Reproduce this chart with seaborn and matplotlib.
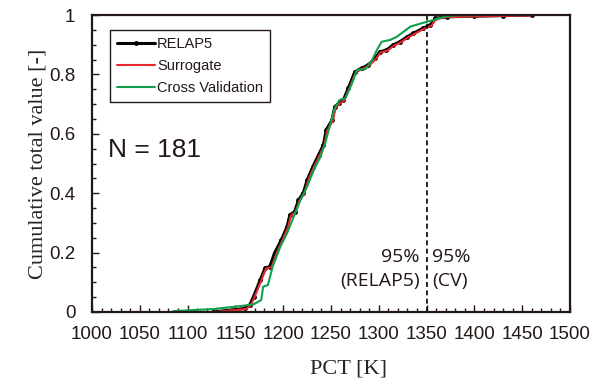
import numpy as np
import pandas as pd
import matplotlib
matplotlib.use("Agg")
import matplotlib.pyplot as plt
import seaborn as sns

# cumulative curves (PCT in K, cumulative fraction)
relap5_pct = [1127, 1160, 1165, 1169, 1176, 1181, 1186, 1191, 1198, 1204, 1207, 1212,
              1216, 1221, 1225, 1231, 1237, 1242, 1245, 1251, 1254, 1258, 1263, 1268,
              1275, 1282, 1289, 1296, 1301, 1308, 1315, 1322, 1329, 1336, 1346, 1354,
              1359, 1371, 1400, 1430, 1460]
relap5_cum = [0.0, 0.012, 0.024, 0.052, 0.108, 0.148, 0.153, 0.199, 0.242, 0.287, 0.327, 0.338,
              0.377, 0.400, 0.444, 0.489, 0.529, 0.562, 0.613, 0.646, 0.691, 0.703, 0.714, 0.753,
              0.809, 0.821, 0.832, 0.854, 0.876, 0.882, 0.899, 0.910, 0.925, 0.938, 0.955, 0.966,
              0.989, 0.994, 0.996, 0.998, 1.0]

surrogate_pct = [1128, 1161, 1166, 1170, 1177, 1182, 1188, 1193, 1199, 1205, 1208, 1213,
                 1217, 1222, 1226, 1232, 1238, 1243, 1246, 1252, 1255, 1259, 1264, 1269,
                 1276, 1283, 1290, 1297, 1302, 1309, 1316, 1323, 1330, 1337, 1347, 1355,
                 1360, 1372, 1400, 1430, 1458]
surrogate_cum = [0.0, 0.010, 0.022, 0.050, 0.106, 0.146, 0.152, 0.197, 0.240, 0.285, 0.325, 0.337,
                 0.375, 0.398, 0.442, 0.487, 0.527, 0.560, 0.611, 0.644, 0.689, 0.701, 0.712, 0.751,
                 0.807, 0.819, 0.830, 0.852, 0.874, 0.880, 0.897, 0.908, 0.923, 0.936, 0.953, 0.964,
                 0.987, 0.993, 0.995, 0.997, 0.998]

cv_pct = [1085, 1127, 1158, 1169, 1177, 1179, 1184, 1189, 1197, 1204, 1211, 1218,
          1225, 1232, 1239, 1244, 1249, 1254, 1259, 1265, 1272, 1277, 1286, 1293,
          1298, 1303, 1312, 1319, 1326, 1333, 1350, 1357, 1368, 1382, 1410]
cv_cum = [0.003, 0.010, 0.021, 0.026, 0.040, 0.085, 0.091, 0.153, 0.220, 0.265, 0.321, 0.377,
          0.422, 0.478, 0.523, 0.569, 0.630, 0.687, 0.714, 0.720, 0.770, 0.815, 0.818, 0.848,
          0.882, 0.910, 0.916, 0.927, 0.944, 0.961, 0.977, 0.983, 0.994, 0.999, 1.0]

pct95 = 1350
n_samples = 181

ink = "#231815"
red = "#e8282d"
green = "#0ea04b"

sns.set_style("ticks")
plt.rcParams["font.family"] = ["Liberation Sans", "DejaVu Sans"]
plt.rcParams["text.color"] = ink
plt.rcParams["axes.edgecolor"] = ink
plt.rcParams["xtick.color"] = ink
plt.rcParams["ytick.color"] = ink

fig = plt.figure(figsize=(6.03, 3.87), dpi=100)
ax = fig.add_axes([92 / 603, 75 / 387, 478 / 603, 297 / 387])

sns.lineplot(x=relap5_pct, y=relap5_cum, sort=False, estimator=None, ax=ax,
             color="black", linewidth=2.2, marker="o", markersize=3.5,
             markeredgewidth=0, label="RELAP5")
sns.lineplot(x=surrogate_pct, y=surrogate_cum, sort=False, estimator=None, ax=ax,
             color=red, linewidth=1.5, label="Surrogate")
sns.lineplot(x=cv_pct, y=cv_cum, sort=False, estimator=None, ax=ax,
             color=green, linewidth=1.5, label="Cross Validation")

ax.plot([pct95, pct95], [0, 1], color="black", linestyle=(0, (3, 2)), linewidth=1.2)

ax.set_xlim(1000, 1500)
ax.set_ylim(0, 1)
ax.set_xticks(np.arange(1000, 1501, 50))
ax.set_xticks(np.arange(1000, 1501, 10), minor=True)
ax.set_yticks([0, 0.2, 0.4, 0.6, 0.8, 1])
ax.set_yticklabels(["0", "0.2", "0.4", "0.6", "0.8", "1"])
ax.set_yticks(np.arange(0, 1.001, 0.05), minor=True)
ax.tick_params(which="both", direction="in", labelsize=13.5, width=1)
ax.tick_params(which="major", length=5)
ax.tick_params(which="minor", length=3)
ax.tick_params(axis="x", which="major", pad=10)
ax.tick_params(axis="y", which="major", pad=12)
for s in ax.spines.values():
    s.set_linewidth(1.6)

ax.set_xlabel("PCT [K]", family=["Liberation Serif", "DejaVu Serif"], fontsize=16)
ax.xaxis.set_label_coords(0.536, -0.16)
ax.set_ylabel("Cumulative total value [-]", family=["Liberation Serif", "DejaVu Serif"],
              fontsize=16)
ax.yaxis.set_label_coords(-0.093, 0.5)

leg = ax.legend(loc="upper left", bbox_to_anchor=(0.022, 0.975), fontsize=10.5,
                fancybox=False, edgecolor=ink, framealpha=1, handlelength=2.6,
                handletextpad=0.15, borderpad=0.5, labelspacing=0.55)
leg.get_frame().set_linewidth(1.0)

ax.text(0.033, 0.545, f"N = {n_samples}", transform=ax.transAxes, fontsize=19,
        va="center", ha="left")
ax.text(1343, 0.215, "95%\n(RELAP5)", ha="right", va="top", multialignment="right",
        fontsize=14, family=["Open Sans", "DejaVu Sans"], linespacing=1.45)
ax.text(1356, 0.215, "95%\n(CV)", ha="left", va="top", multialignment="left",
        fontsize=14, family=["Open Sans", "DejaVu Sans"], linespacing=1.45)

fig.savefig("out.png", dpi=100)
